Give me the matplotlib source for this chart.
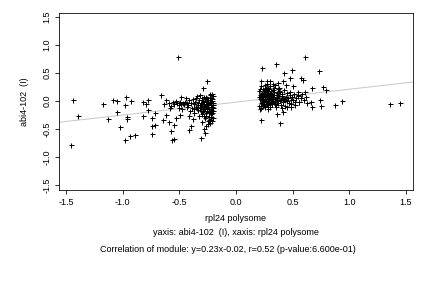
import numpy as np
import matplotlib
matplotlib.use("Agg")
import matplotlib.pyplot as plt

plt.rcParams['font.family'] = ['Liberation Sans', 'DejaVu Sans']

# sparse points on the left side (rpl24 polysome < 0)
left_sparse = [
    (-1.444, 0.018), (-1.397, -0.268), (-1.456, -0.786), (-1.179, -0.054),
    (-1.135, -0.321), (-1.088, 0.018), (-1.053, -0.006), (-1.053, -0.202),
    (-1.024, -0.464), (-0.985, -0.065), (-0.974, 0.071), (-0.985, -0.696),
    (-0.959, -0.292), (-0.959, -0.327), (-0.932, -0.006), (-0.935, -0.625),
    (-0.891, -0.607), (-0.824, -0.268), (-0.818, -0.018), (-0.794, -0.060),
    (-0.774, 0.024), (-0.774, -0.167), (-0.744, -0.446), (-0.744, -0.595),
    (-0.744, -0.310), (-0.715, -0.214), (-0.718, -0.429), (-0.662, 0.107),
    (-0.638, -0.054), (-0.621, -0.244), (-0.618, 0.024), (-0.647, -0.339),
    (-0.588, -0.381), (-0.582, -0.131), (-0.571, -0.542), (-0.562, -0.696),
    (-0.547, -0.679), (-0.544, -0.429), (-0.515, 0.786), (-0.529, -0.310),
    (-0.506, -0.119), (-0.494, -0.250), (-0.482, 0.077), (-0.418, -0.524),
    (-0.400, -0.446), (-0.382, -0.327), (-0.309, -0.667), (-0.303, -0.381),
    (-0.294, 0.238), (-0.279, -0.500), (-0.276, -0.577), (-0.259, 0.357),
    (-0.229, -0.339),
]

# dense block next to -0.2
left_dense = [
    (-0.205, 0.09), (-0.212, 0.03), (-0.208, -0.04), (-0.215, -0.11), (-0.203, -0.17),
    (-0.219, -0.24), (-0.207, -0.31), (-0.226, 0.06), (-0.231, -0.01), (-0.224, -0.07),
    (-0.236, -0.14), (-0.228, -0.20), (-0.241, -0.28), (-0.233, 0.12), (-0.247, 0.02),
    (-0.252, -0.05), (-0.244, -0.10), (-0.258, -0.17), (-0.249, -0.36), (-0.263, 0.08),
    (-0.268, -0.02), (-0.259, -0.08), (-0.272, -0.13), (-0.266, -0.22), (-0.277, 0.04),
    (-0.283, -0.06), (-0.274, -0.11), (-0.289, -0.18), (-0.281, -0.27), (-0.294, 0.00),
    (-0.299, -0.09), (-0.291, -0.14), (-0.305, 0.06), (-0.311, -0.03), (-0.303, -0.20),
    (-0.318, -0.12), (-0.326, 0.02), (-0.321, -0.07), (-0.334, -0.16), (-0.339, -0.04),
    (-0.347, 0.09), (-0.352, -0.10), (-0.361, -0.01), (-0.368, -0.22), (-0.374, -0.06),
    (-0.383, 0.03), (-0.391, -0.12), (-0.398, -0.03), (-0.406, -0.17), (-0.414, 0.01),
    (-0.423, -0.08), (-0.431, -0.04), (-0.442, 0.05), (-0.449, -0.02), (-0.457, -0.06),
    (-0.466, -0.03), (-0.478, -0.14), (-0.486, -0.05), (-0.497, -0.02), (-0.508, -0.07),
    (-0.519, -0.04), (-0.533, 0.00), (-0.546, -0.05), (-0.561, -0.02), (-0.575, -0.09),
    (-0.592, -0.04), (-0.214, 0.00), (-0.221, -0.16), (-0.217, -0.21), (-0.239, -0.04),
    (-0.256, -0.13), (-0.262, -0.26), (-0.285, 0.08), (-0.297, -0.24), (-0.209, 0.13),
    (-0.222, -0.28), (-0.243, -0.19), (-0.271, -0.30), (-0.288, -0.01), (-0.313, -0.17),
    (-0.329, -0.26), (-0.344, -0.12), (-0.357, 0.05), (-0.206, -0.07), (-0.229, 0.10),
    (-0.254, 0.05), (-0.276, -0.09), (-0.301, -0.05), (-0.316, 0.10), (-0.235, -0.33),
    (-0.246, -0.41), (-0.227, -0.39), (-0.213, -0.35), (-0.267, -0.44), (-0.201, -0.13),
    (-0.218, 0.05), (-0.238, -0.22), (-0.261, -0.01), (-0.279, -0.15), (-0.308, -0.11),
    (-0.337, -0.07), (-0.372, -0.14), (-0.412, -0.26), (-0.436, -0.11),
]

# sparse points on the right side
right_sparse = [
    (0.232, 0.583), (0.353, 0.661), (0.609, 0.786), (0.735, 0.536),
    (0.497, 0.554), (0.424, 0.494), (0.476, 0.417), (0.574, 0.417),
    (0.594, 0.381), (0.412, 0.357), (0.500, 0.274), (0.668, 0.226),
    (0.765, 0.256), (0.794, 0.196), (0.550, 0.155), (0.609, 0.155),
    (0.741, 0.018), (0.747, -0.089), (0.668, -0.101), (0.662, -0.012),
    (0.624, -0.042), (0.874, -0.071), (0.932, -0.006), (1.359, -0.054),
    (1.447, -0.030), (0.221, -0.339), (0.388, -0.387), (0.359, -0.232),
    (0.418, -0.202), (0.559, -0.012), (0.521, -0.071), (0.482, -0.101),
    (0.447, -0.101), (0.550, 0.095), (0.476, 0.167), (0.441, 0.286),
    (0.300, 0.357), (0.271, 0.357), (0.221, 0.357), (0.329, 0.304),
    (0.368, 0.315),
]

# dense block next to +0.2
right_dense = [
    (0.205, 0.18), (0.212, 0.10), (0.208, 0.03), (0.216, -0.04), (0.203, -0.09),
    (0.221, 0.27), (0.226, 0.14), (0.219, 0.06), (0.231, -0.01), (0.224, -0.12),
    (0.237, 0.21), (0.242, 0.09), (0.234, 0.02), (0.247, -0.06), (0.252, 0.16),
    (0.257, 0.04), (0.249, -0.02), (0.262, 0.24), (0.266, 0.11), (0.259, -0.09),
    (0.271, 0.07), (0.277, -0.03), (0.274, 0.31), (0.283, 0.15), (0.288, 0.01),
    (0.281, -0.14), (0.294, 0.09), (0.299, -0.06), (0.291, 0.22), (0.305, 0.04),
    (0.311, 0.13), (0.303, -0.10), (0.317, 0.00), (0.323, 0.19), (0.328, 0.07),
    (0.321, -0.05), (0.334, 0.11), (0.339, -0.02), (0.346, 0.28), (0.352, 0.05),
    (0.357, 0.15), (0.349, -0.08), (0.363, 0.02), (0.368, 0.21), (0.374, -0.04),
    (0.379, 0.09), (0.386, 0.01), (0.391, 0.16), (0.397, -0.07), (0.403, 0.06),
    (0.409, 0.12), (0.414, -0.01), (0.421, 0.20), (0.427, 0.04), (0.433, -0.09),
    (0.439, 0.08), (0.446, 0.14), (0.452, 0.00), (0.459, 0.06), (0.466, -0.04),
    (0.473, 0.11), (0.481, 0.02), (0.489, -0.06), (0.497, 0.08), (0.506, 0.01),
    (0.514, 0.13), (0.523, -0.02), (0.532, 0.05), (0.545, 0.10), (0.558, -0.01),
    (0.571, 0.06), (0.586, 0.12), (0.603, 0.02), (0.621, 0.08), (0.214, 0.22),
    (0.228, 0.04), (0.239, -0.08), (0.244, 0.12), (0.254, 0.29), (0.264, 0.00),
    (0.269, 0.18), (0.279, 0.05), (0.286, -0.07), (0.296, 0.14), (0.301, 0.27),
    (0.309, -0.02), (0.314, 0.08), (0.326, 0.00), (0.331, 0.24), (0.343, 0.03),
    (0.355, -0.11), (0.366, 0.12), (0.382, 0.24), (0.394, 0.03), (0.218, 0.13),
    (0.233, 0.08), (0.211, -0.14), (0.246, 0.19), (0.256, -0.11), (0.273, 0.13),
    (0.284, 0.24), (0.293, -0.02), (0.312, 0.18), (0.336, 0.16), (0.361, 0.08),
    (0.376, 0.17), (0.401, 0.09), (0.418, 0.06), (0.206, 0.07), (0.227, -0.06),
    (0.251, 0.09), (0.276, 0.21), (0.297, 0.05), (0.319, 0.10), (0.344, -0.05),
    (0.371, 0.00), (0.405, -0.12), (0.436, 0.02),
]

slope = 0.23
intercept = -0.02
ticks = [-1.5, -1.0, -0.5, 0.0, 0.5, 1.0, 1.5]

pts = np.array(left_sparse + left_dense + right_sparse + right_dense)

fig = plt.figure(figsize=(6, 4), dpi=72)
ax = fig.add_axes([0.137, 0.34, 0.819, 0.615])

xl = np.array([-1.6, 1.6])
ax.plot(xl, slope * xl + intercept, color='#c8c8c8', lw=1, zorder=1)
ax.plot(pts[:, 0], pts[:, 1], '+', color='black', ms=5, mew=1, zorder=2)

ax.set_xlim(-1.562, 1.562)
ax.set_ylim(-1.589, 1.571)
ax.set_xticks(ticks)
ax.set_yticks(ticks)
ax.set_xticklabels(['%.1f' % t for t in ticks], fontsize=9)
ax.set_yticklabels(['%.1f' % t for t in ticks], fontsize=9, rotation=90, va='center')
ax.tick_params(direction='out', length=4, width=0.8, pad=4)
for s in ax.spines.values():
    s.set_linewidth(0.8)

ax.set_ylabel('abi4-102  (I)', fontsize=9, labelpad=13)

fig.text(0.546, 0.243, 'rpl24 polysome', ha='center', va='center', fontsize=9)
fig.text(0.546, 0.191, 'yaxis: abi4-102  (I), xaxis: rpl24 polysome',
         ha='center', va='center', fontsize=9)
fig.text(0.527, 0.135,
         'Correlation of module: y=0.23x-0.02, r=0.52 (p-value:6.600e-01)',
         ha='center', va='center', fontsize=9)

fig.savefig('out.png', dpi=72)
